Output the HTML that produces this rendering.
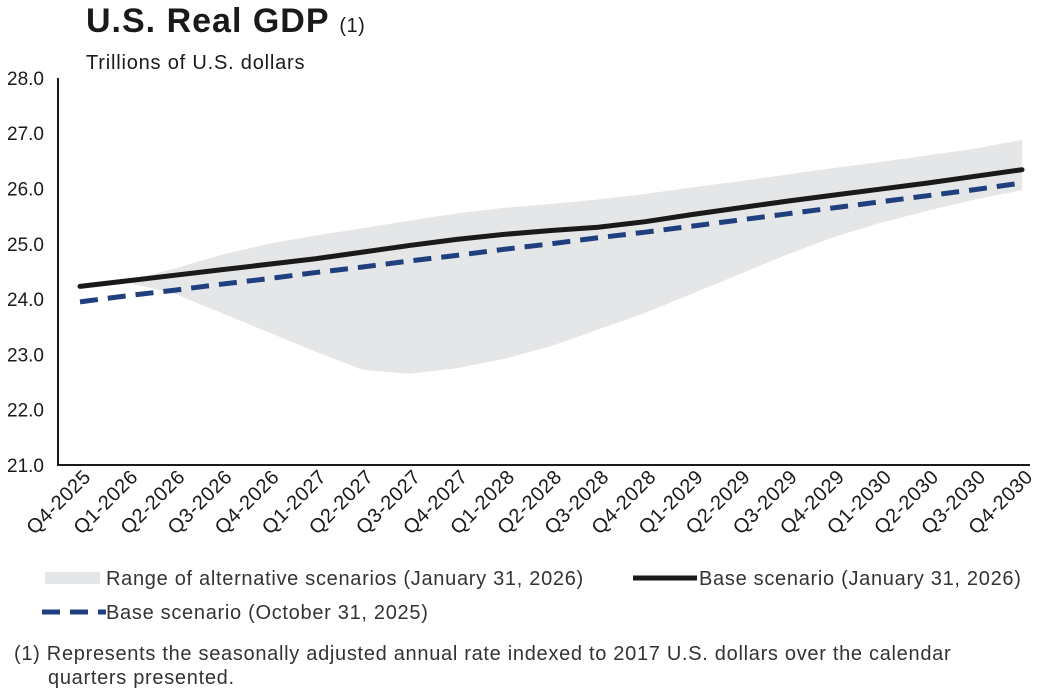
<!DOCTYPE html>
<html><head><meta charset="utf-8"><style>
body{margin:0;background:#fff;font-family:"Liberation Sans",sans-serif;}
svg{display:block}
</style></head><body>
<svg width="1045" height="690" xmlns="http://www.w3.org/2000/svg">
<text x="86" y="32" font-size="34" font-weight="bold" letter-spacing="1" fill="#1a1a1a">U.S. Real GDP <tspan font-size="20" font-weight="normal" letter-spacing="0.5">(1)</tspan></text>
<text x="86" y="69" font-size="20" letter-spacing="0.8" fill="#1a1a1a">Trillions of U.S. dollars</text>
<g id="plot"></g>
<g>
<rect x="45" y="572" width="55" height="12" fill="#e5e6e8"/>
<text x="106" y="585" font-size="20" letter-spacing="0.7" fill="#333">Range of alternative scenarios (January 31, 2026)</text>
<line x1="633" y1="578" x2="697" y2="578" stroke="#1a1a1a" stroke-width="5"/>
<text x="699" y="585" font-size="20" letter-spacing="0.7" fill="#333">Base scenario (January 31, 2026)</text>
<line x1="42" y1="612" x2="106" y2="612" stroke="#1f3f7f" stroke-width="5" stroke-dasharray="18,10"/>
<text x="106" y="619" font-size="20" letter-spacing="0.7" fill="#333">Base scenario (October 31, 2025)</text>
</g>
<text x="14" y="660" font-size="20" letter-spacing="0.7" fill="#333">(1)  Represents the seasonally adjusted annual rate indexed to 2017 U.S. dollars over the calendar</text>
<text x="48" y="684" font-size="20" letter-spacing="0.7" fill="#333">quarters presented.</text>
</svg>
<script>
const categories=["Q4-2025","Q1-2026","Q2-2026","Q3-2026","Q4-2026","Q1-2027","Q2-2027","Q3-2027","Q4-2027","Q1-2028","Q2-2028","Q3-2028","Q4-2028","Q1-2029","Q2-2029","Q3-2029","Q4-2029","Q1-2030","Q2-2030","Q3-2030","Q4-2030"];
const baseJan=[24.23,24.33,24.43,24.53,24.63,24.73,24.85,24.97,25.08,25.17,25.24,25.3,25.4,25.53,25.65,25.77,25.88,25.99,26.1,26.22,26.34];
const baseOct=[23.95,24.06,24.16,24.27,24.37,24.48,24.58,24.69,24.79,24.9,25.0,25.11,25.21,25.32,25.43,25.54,25.65,25.76,25.87,25.98,26.1];
const rangeHigh=[24.23,24.33,24.55,24.8,25.0,25.15,25.28,25.42,25.55,25.65,25.72,25.8,25.9,26.02,26.13,26.25,26.37,26.48,26.6,26.72,26.88];
const rangeLow=[24.23,24.3,24.1,23.75,23.4,23.05,22.72,22.65,22.75,22.92,23.15,23.45,23.75,24.1,24.45,24.8,25.12,25.38,25.6,25.8,25.97];
const yTicks=["21.0","22.0","23.0","24.0","25.0","26.0","27.0","28.0"];
const NS="http://www.w3.org/2000/svg";
const g=document.getElementById('plot');
const X=i=>80+i*47.1;
const Y=v=>465-(v-21)*55.3;
function mk(t,a){const e=document.createElementNS(NS,t);for(const k in a)e.setAttribute(k,a[k]);g.appendChild(e);return e;}
let d=rangeHigh.map((v,i)=>(i?'L':'M')+X(i)+','+Y(v)).join('')+rangeLow.map((v,i)=>i).reverse().map(i=>'L'+X(i)+','+Y(rangeLow[i])).join('')+'Z';
let r=mk('path',{d:d,fill:'#e5e6e8'});


let ax=mk('path',{d:'M58,78V465H1030',fill:'none',stroke:'#1a1a1a','stroke-width':2});


yTicks.forEach(t=>{const e=mk('text',{x:44,y:Y(+t)+7,'text-anchor':'end','font-size':19,fill:'#1a1a1a'});e.textContent=t;

});
categories.forEach((c,i)=>{const x=X(i)+12,y=478;const e=mk('text',{x:x,y:y,'text-anchor':'end','font-size':20,'letter-spacing':0.5,fill:'#1a1a1a',transform:`rotate(-45 ${x} ${y})`});e.textContent=c;

});
let o=mk('polyline',{points:baseOct.map((v,i)=>X(i)+','+Y(v)).join(' '),fill:'none',stroke:'#1f3f7f','stroke-width':5,'stroke-dasharray':'18,10'});


let b=mk('polyline',{points:baseJan.map((v,i)=>X(i)+','+Y(v)).join(' '),fill:'none',stroke:'#1a1a1a','stroke-width':5,'stroke-linecap':'round'});


</script>
</body></html>
